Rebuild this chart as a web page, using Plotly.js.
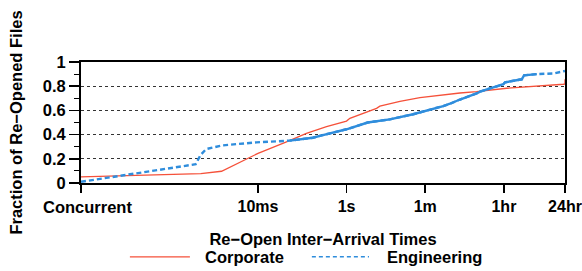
<!DOCTYPE html>
<html>
<head>
<meta charset="utf-8">
<script src="https://cdn.plot.ly/plotly-3.0.1.min.js"></script>
<style>html,body{margin:0;padding:0;background:#fff;}#chart{width:582px;height:271px;}</style>
</head>
<body>
<div id="chart"></div>
<script>
// ---- data (inter-arrival time in seconds, cumulative fraction) ----
const seriesNames = ['Corporate', 'Engineering'];
const corpTimes = [1e-6, 5.1e-4, 1.5e-3, 0.01, 0.044, 0.124, 0.353, 1.0, 1.19, 3.37, 4.77, 5.67, 16.1, 45.5, 129, 366, 870, 4170, 79400, 86400, 86400];
const corpFrac  = [0.05, 0.077, 0.097, 0.245, 0.34, 0.41, 0.465, 0.512, 0.535, 0.6, 0.617, 0.635, 0.675, 0.705, 0.727, 0.744, 0.755, 0.783, 0.816, 0.818, 0.857];
const engTimes = [1e-6, 3.9e-4, 5.0e-4, 6.7e-4, 1.5e-3, 9.2e-3, 0.052, 0.088, 0.173, 0.25, 1.0, 3.0, 9.5, 32, 65, 77, 153, 217, 366, 870, 1040, 3490, 3810, 9100, 10260, 19900, 47200, 86400];
const engFrac  = [0.01, 0.155, 0.23, 0.28, 0.31, 0.336, 0.35, 0.36, 0.374, 0.39, 0.444, 0.50, 0.526, 0.568, 0.597, 0.603, 0.636, 0.655, 0.69, 0.74, 0.755, 0.816, 0.832, 0.857, 0.89, 0.9, 0.905, 0.926];
const xTickVals = [1e-6, 0.01, 1, 60, 3600, 86400];
const xTickLabels = ['Concurrent', '10ms', '1s', '1m', '1hr', '24hr'];
const yTickVals = [0, 0.2, 0.4, 0.6, 0.8, 1];
const yTickLabels = ['0', '0.2', '0.4', '0.6', '0.8', '1'];

// ---- styles ----
const RED = '#f5513a';
const BLUE = '#2f8ddc';
const FONT = {family: 'Liberation Sans, Arial, sans-serif', size: 16.5, color: '#000', weight: 'bold'};
const TICKFONT = {family: 'Liberation Sans, Arial, sans-serif', size: 16, color: '#000', weight: 'bold'};

// region of the engineering curve that renders as solid (dense points)
const solidStart = 6, solidEnd = 26;

const traces = [
  {x: corpTimes, y: corpFrac, type: 'scatter', mode: 'lines', name: seriesNames[0],
   line: {color: RED, width: 1.3}, showlegend: false},
  {x: engTimes, y: engFrac, type: 'scatter', mode: 'lines', name: seriesNames[1],
   line: {color: BLUE, width: 2.4, dash: '5px,3px'}, showlegend: false},
  {x: engTimes.slice(solidStart, solidEnd), y: engFrac.slice(solidStart, solidEnd), type: 'scatter', mode: 'lines',
   name: seriesNames[1], line: {color: BLUE, width: 2.4}, showlegend: false, hoverinfo: 'skip'}
];

// legend drawn manually to match long legend keys
const legY = -0.61;
const shapes = [
  {type: 'line', xref: 'paper', yref: 'paper', x0: 0.101, x1: 0.225, y0: legY, y1: legY, line: {color: RED, width: 1.3}},
  {type: 'line', xref: 'paper', yref: 'paper', x0: 0.477, x1: 0.595, y0: legY, y1: legY, line: {color: BLUE, width: 1.6, dash: '4px,3px'}}
];
const annotations = [
  {text: seriesNames[0], xref: 'paper', yref: 'paper', x: 0.252, y: legY, xanchor: 'left', yanchor: 'middle', showarrow: false, font: FONT},
  {text: seriesNames[1], xref: 'paper', yref: 'paper', x: 0.628, y: legY, xanchor: 'left', yanchor: 'middle', showarrow: false, font: FONT},
  {text: xTickLabels[0], xref: 'x', yref: 'paper', x: Math.log10(xTickVals[0]), y: 0, xshift: 6, yshift: -24,
   xanchor: 'center', yanchor: 'middle', showarrow: false, font: FONT}
];

const layout = {
  width: 582, height: 271,
  margin: {l: 81, r: 17, t: 62, b: 88},
  paper_bgcolor: '#fff', plot_bgcolor: '#fff',
  font: FONT,
  showlegend: false,
  xaxis: {
    type: 'log', range: [Math.log10(xTickVals[0]), Math.log10(xTickVals[xTickVals.length - 1])],
    tickmode: 'array', tickvals: xTickVals, ticktext: xTickLabels.map((t, i) => i === 0 ? '' : t),
    ticks: 'outside', ticklen: 8, tickwidth: 1.5, tickcolor: '#000',
    showline: true, linewidth: 2, linecolor: '#000', mirror: true,
    showgrid: false, zeroline: false, automargin: false,
    tickfont: TICKFONT,
    title: {text: 'Re\u2212Open Inter\u2212Arrival Times', font: FONT, standoff: 19}
  },
  yaxis: {
    range: [0, 1], tickmode: 'array', tickvals: yTickVals, ticktext: yTickLabels,
    ticks: 'outside', ticklen: 10, tickwidth: 1.5, tickcolor: '#000',
    minor: {dtick: 0.1, tick0: 0, ticks: 'outside', ticklen: 5, tickcolor: '#000', tickwidth: 1, showgrid: false},
    showline: true, linewidth: 2, linecolor: '#000', mirror: true,
    showgrid: true, gridcolor: '#333', gridwidth: 1, griddash: 'dot',
    zeroline: false, automargin: false,
    tickfont: FONT,
    title: {text: 'Fraction of Re\u2212Opened Files', font: FONT, standoff: 16}
  },
  shapes: shapes,
  annotations: annotations
};

Plotly.newPlot('chart', traces, layout, {staticPlot: true, displayModeBar: false});
</script>
</body>
</html>
